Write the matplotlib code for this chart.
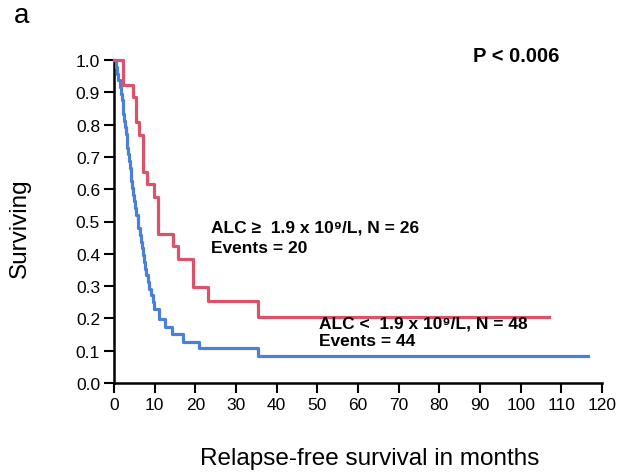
import matplotlib
matplotlib.use("Agg")
import matplotlib.pyplot as plt

plt.rcParams['font.family'] = ['Liberation Sans', 'DejaVu Sans']

# High ALC group (N = 26)
high_times = [0, 2.2, 4.7, 5.4, 6.2, 7.1, 8.1, 9.8, 10.8, 14.4, 15.8, 19.4, 23.0, 35.4, 107.0]
high_surv = [1.0, 0.923, 0.885, 0.808, 0.769, 0.654, 0.615, 0.577, 0.462, 0.423, 0.385, 0.297, 0.255, 0.205, 0.205]

# Low ALC group (N = 48)
low_times = [0, 0.5, 0.8, 1.1, 1.5, 1.7, 1.9, 2.1, 2.3, 2.5, 2.7, 2.9, 3.1, 3.3, 3.5, 3.7, 3.9,
             4.1, 4.3, 4.5, 4.7, 4.9, 5.2, 5.5, 5.8, 6.0, 6.3, 6.6, 6.9, 7.1, 7.3, 7.6, 7.9,
             8.3, 8.6, 9.0, 9.5, 9.8, 11.0, 12.5, 14.3, 17.0, 21.0, 35.4, 116.5]
low_surv = [1.0, 0.979, 0.958, 0.938, 0.917, 0.896, 0.875, 0.854, 0.833, 0.812, 0.792, 0.771,
            0.750, 0.729, 0.708, 0.688, 0.667, 0.646, 0.625, 0.604, 0.583, 0.562, 0.542,
            0.521, 0.500, 0.479, 0.458, 0.438, 0.417, 0.396, 0.375, 0.354, 0.333, 0.312,
            0.292, 0.271, 0.250, 0.229, 0.198, 0.172, 0.151, 0.127, 0.108, 0.085, 0.085]

x_ticks = list(range(0, 121, 10))
y_ticks = [i / 10 for i in range(11)]

red = '#d9536a'
blue = '#4a80d6'

fig = plt.figure(figsize=(6.32, 4.77), dpi=100)
ax = fig.add_axes([114 / 632, 1 - 384 / 477, (602 - 114) / 632, (384 - 61) / 477])

ax.step(low_times, low_surv, where='post', color=blue, lw=2.3, clip_on=False, zorder=3)
ax.step(high_times, high_surv, where='post', color=red, lw=2.3, clip_on=False, zorder=3)

ax.set_xlim(0, 120)
ax.set_ylim(0, 1.0)
ax.set_xticks(x_ticks)
ax.set_xticklabels([str(v) for v in x_ticks])
ax.set_yticks(y_ticks)
ax.set_yticklabels([f"{v:.1f}" for v in y_ticks])

for s in ['top', 'right']:
    ax.spines[s].set_visible(False)
for s in ['left', 'bottom']:
    ax.spines[s].set_linewidth(1.8)
    ax.spines[s].set_color('black')

ax.tick_params(axis='both', direction='out', length=7, width=1.5, labelsize=12.5, pad=3, colors='black')

fig.text(0.5 * (195 + 545) / 632, 1 - 459 / 477, "Relapse-free survival in months",
         fontsize=17.5, ha='center', va='center')
fig.text(20 / 632, 1 - 228 / 477, "Surviving", fontsize=17.5, rotation=90,
         ha='center', va='center')
fig.text(14 / 632, 1 - 16 / 477, "a", fontsize=20, ha='left', va='center')

fig.text(516 / 632, 1 - 57 / 477, "P < 0.006", fontsize=14.5, fontweight='bold',
         ha='center', va='center')

fig.text(211 / 632, 1 - 228 / 477, "ALC \u2265  1.9 x 10\u2079/L, N = 26", fontsize=12.5,
         fontweight='bold', ha='left', va='center')
fig.text(211 / 632, 1 - 249 / 477, "Events = 20", fontsize=12.5,
         fontweight='bold', ha='left', va='center')
fig.text(319 / 632, 1 - 324 / 477, "ALC <  1.9 x 10\u2079/L, N = 48", fontsize=12.5,
         fontweight='bold', ha='left', va='center')
fig.text(319 / 632, 1 - 342 / 477, "Events = 44", fontsize=12.5,
         fontweight='bold', ha='left', va='center')

fig.savefig("out.png", dpi=100)
